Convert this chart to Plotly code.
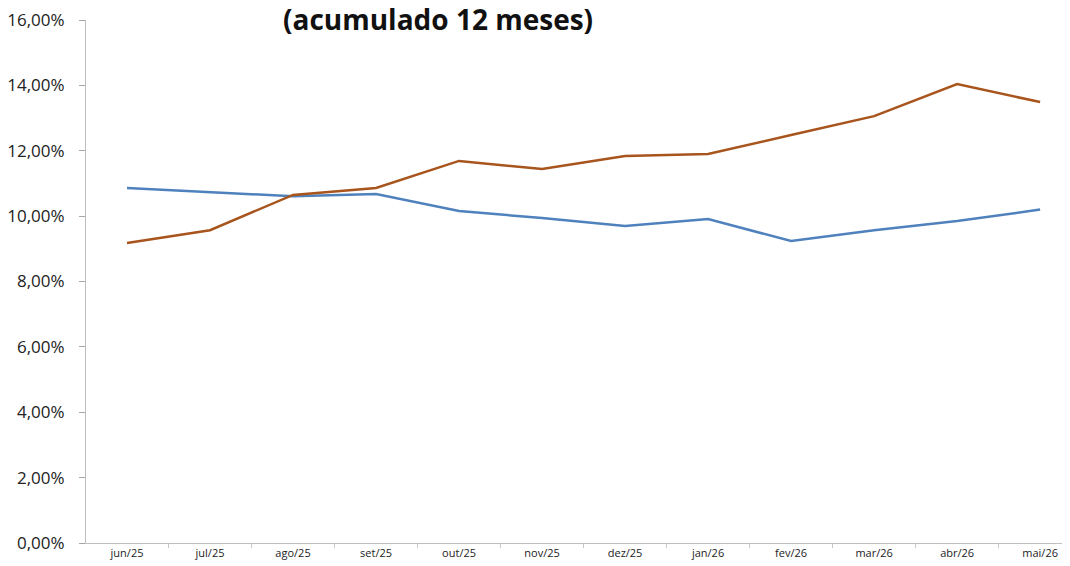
import plotly.graph_objects as go

meses = ["jun/25", "jul/25", "ago/25", "set/25", "out/25", "nov/25",
         "dez/25", "jan/26", "fev/26", "mar/26", "abr/26", "mai/26"]
serie_azul = [10.86, 10.74, 10.61, 10.68, 10.16, 9.94, 9.70, 9.91, 9.24, 9.57, 9.85, 10.20]
serie_marrom = [9.18, 9.57, 10.65, 10.86, 11.69, 11.44, 11.84, 11.90, 12.48, 13.06, 14.04, 13.49]
ticks_y = [0.00, 0.02, 0.04, 0.06, 0.08, 0.10, 0.12, 0.14, 0.16]
titulo = "(acumulado 12 meses)"

W, H = 1062, 558  # page body has an 8px margin
L = 78

fig = go.Figure()
fig.add_trace(go.Scatter(x=meses, y=[v / 100 for v in serie_azul], mode="lines",
                         line=dict(color="#4F81BD", width=2.5), showlegend=False))
fig.add_trace(go.Scatter(x=meses, y=[v / 100 for v in serie_marrom], mode="lines",
                         line=dict(color="#A8541D", width=2.5), showlegend=False))

fig.update_layout(
    width=W, height=H,
    margin=dict(l=L, r=0, t=12, b=23, autoexpand=False),
    paper_bgcolor="white", plot_bgcolor="white",
    separators=",.",
    font=dict(family="Open Sans, Liberation Sans, sans-serif", color="#222"),
    xaxis=dict(type="category", range=[-0.494, 11.36], tickson="boundaries",
               ticks="outside", ticklen=4, tickcolor="#C8C8C8",
               showline=True, linecolor="#BFBFBF", linewidth=1,
               showgrid=False, zeroline=False,
               tickfont=dict(size=11, color="#222")),
    yaxis=dict(range=[0, 0.16001], tickvals=ticks_y,
               tickformat=".2%", ticks="outside", ticklen=6, tickcolor="#A6A6A6",
               ticklabelstandoff=11, ticklabeloverflow="allow",
               showline=True, linecolor="#BFBFBF", linewidth=1,
               showgrid=False, zeroline=False,
               tickfont=dict(size=17, color="#222")),
    annotations=[dict(text="<b>" + titulo + "</b>", xref="paper", yref="paper",
                      x=(437.5 - 8 - L) / (W - L), y=1, yanchor="middle", yshift=1,
                      showarrow=False, font=dict(size=28, color="#111",
                                                 family="Open Sans, sans-serif"))],
)

fig.write_html("out.html")
